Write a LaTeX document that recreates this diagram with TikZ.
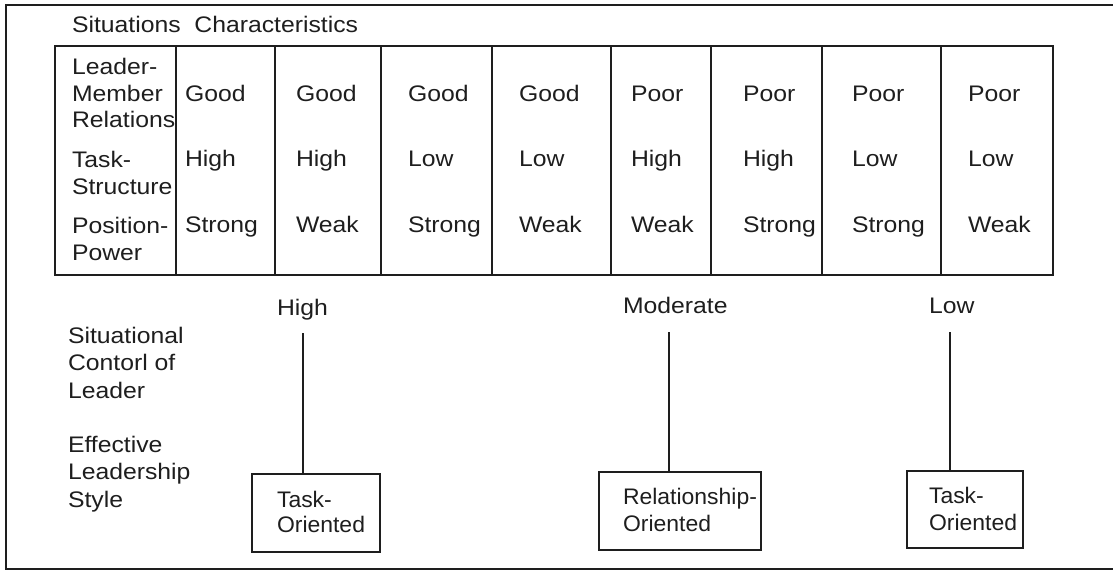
\documentclass[tikz,border=0pt]{standalone}
\usepackage{fontspec}
\setmainfont{Liberation Sans}[FakeStretch=1.1]
\newfontfamily\boxfont{Liberation Sans}[FakeStretch=1.02]
\definecolor{ink}{HTML}{1E1E1E}
\begin{document}
\begin{tikzpicture}[x=1pt,y=-1pt,
  every node/.style={inner sep=0pt, outer sep=0pt, text=ink,
    font=\fontsize{22.5}{26.5}\selectfont},
  txt/.style={anchor=base west, align=left},
  boxtxt/.style={txt, font=\boxfont\fontsize{22.5}{26.5}\selectfont},
  frame/.style={draw=ink, line width=2.2pt},
  grid/.style={draw=ink, line width=1.6pt},
  stylebox/.style={draw=ink, line width=1.6pt, anchor=north west},
  link/.style={draw=ink, line width=1.3pt}]
\useasboundingbox (0,0) rectangle (1113,572);

% outer frame (open on the right)
\draw[frame] (1113,5) -- (6,5) -- (6,569) -- (1113,569);

% title
\node[txt] (title) at (72,33) {Situations\ \ Characteristics};

% table of situation characteristics
\draw[grid] (55,46) rectangle (1053,275);
\foreach \x in {176,275,381,492,611,711,822,941}
  \draw[grid] (\x,46) -- (\x,275);

% row headings (anchored at the baseline of their last line)
\node[txt] (lmr) at (72,128) {Leader-\\Member\\Relations};
\node[txt] (ts)  at (72,194) {Task-\\Structure};
\node[txt] (pp)  at (72,260) {Position-\\Power};

% cell values
\foreach \x/\a/\b/\c [count=\i] in {
    185/Good/High/Strong,
    296/Good/High/Weak,
    408/Good/Low/Strong,
    519/Good/Low/Weak,
    631/Poor/High/Weak,
    743/Poor/High/Strong,
    852/Poor/Low/Strong,
    968/Poor/Low/Weak}{
  \node[txt] (r1c\i) at (\x,102) {\a};
  \node[txt] (r2c\i) at (\x,167) {\b};
  \node[txt] (r3c\i) at (\x,233) {\c};
}

% lower headings
\node[txt] (ctrl) at (68,398) {Situational\\[1pt]Contorl of\\[1pt]Leader};
\node[txt] (eff)  at (68,507) {Effective\\[1pt]Leadership\\[1pt]Style};

% levels of situational control
\node[txt] (high) at (277,315) {High};
\node[txt] (mod)  at (623,313) {Moderate};
\node[txt] (low)  at (929,313) {Low};
\coordinate (c1) at (303,333);
\coordinate (c2) at (669,332);
\coordinate (c3) at (950,332);

% leadership style boxes
\node[stylebox, minimum width=128pt, minimum height=78pt] (b1) at (252,474) {};
\node[stylebox, minimum width=162pt, minimum height=78pt] (b2) at (599,472) {};
\node[stylebox, minimum width=116pt, minimum height=77pt] (b3) at (907,471) {};
\node[boxtxt] (t1) at (277,532) {Task-\\[-1.5pt]Oriented};
\node[boxtxt] (t2) at (623,531) {Relationship-\\[0.5pt]Oriented};
\node[boxtxt] (t3) at (929,530) {Task-\\[0.5pt]Oriented};

% connectors
\draw[link] (c1) -- (c1 |- b1.north);
\draw[link] (c2) -- (c2 |- b2.north);
\draw[link] (c3) -- (c3 |- b3.north);
\end{tikzpicture}
\end{document}
